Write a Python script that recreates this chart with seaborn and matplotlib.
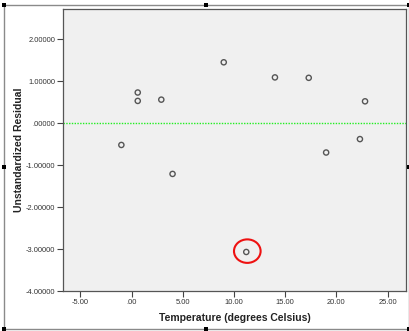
import matplotlib
matplotlib.use("Agg")
import matplotlib.pyplot as plt
from matplotlib.patches import Rectangle, Ellipse
from matplotlib.ticker import FuncFormatter, FixedLocator
import seaborn as sns
import pandas as pd
import numpy as np

# Residuals from the regression on temperature
temperature = [-1.0, 0.6, 0.6, 2.9, 4.0, 9.0, 11.2, 14.0, 17.3, 19.0, 22.3, 22.8]
residual = [-0.52, 0.73, 0.53, 0.56, -1.21, 1.45, -3.07, 1.09, 1.08, -0.70, -0.38, 0.52]

x_ticks = [-5, 0, 5, 10, 15, 20, 25]
y_ticks = [-4, -3, -2, -1, 0, 1, 2]

df = pd.DataFrame({"Temperature": temperature, "Residual": residual})

sns.set_theme(style="white")
plt.rcParams["font.family"] = ["Liberation Sans", "DejaVu Sans"]

fig = plt.figure(figsize=(4.10, 3.31), dpi=100)
ax = fig.add_axes([63 / 410, 1 - 291 / 331, (406 - 63) / 410, (291 - 9) / 331])
ax.set_facecolor("#F0F0F0")

sns.scatterplot(data=df, x="Temperature", y="Residual", ax=ax,
                marker="o", s=14, facecolor="none", edgecolor="#555555",
                linewidth=1.0, legend=False)

# Reference line at zero
ax.axhline(0, color="#22EE22", linestyle=(0, (1, 1)), linewidth=1.0, zorder=1)

ax.set_xlim(-6.7, 26.8)
ax.set_ylim(-4.0, 2.72)

def fmt(decimals):
    def f(v, pos):
        s = f"{v:.{decimals}f}"
        if s.startswith("0."):
            s = s[1:]
        elif s.startswith("-0."):
            s = "-" + s[2:]
        return s
    return FuncFormatter(f)

ax.xaxis.set_major_locator(FixedLocator(x_ticks))
ax.yaxis.set_major_locator(FixedLocator(y_ticks))
ax.xaxis.set_major_formatter(fmt(2))
ax.yaxis.set_major_formatter(fmt(5))
ax.tick_params(axis="both", which="major", length=4, width=0.8, color="#444444",
               labelsize=5.4, labelcolor="#333333", pad=1.5, direction="out",
               bottom=True, left=True)

for side, sp in ax.spines.items():
    sp.set_visible(True)
    sp.set_color("#555555")
    sp.set_linewidth(0.9)

ax.set_xlabel("Temperature (degrees Celsius)", fontsize=7.5, fontweight="bold",
              color="#222222", labelpad=5)
ax.set_ylabel("Unstandardized Residual", fontsize=7.5, fontweight="bold",
              color="#222222")
ax.yaxis.set_label_coords(-39 / 343, 0.5)

# Highlight the outlying residual
i_out = int(np.argmin(residual))
ax.add_patch(Ellipse((temperature[i_out] + 0.1, residual[i_out] + 0.02),
                     width=2.6, height=0.56, fill=False, edgecolor="#EE1111",
                     linewidth=1.5, zorder=5))

# Chart frame with selection handles
W, H = 410, 331
fig.patches.append(Rectangle((4 / W, 1 - 329 / H), 405 / W, 324 / H,
                             transform=fig.transFigure, fill=False,
                             edgecolor="#8A8A8A", linewidth=1.0))
for hx, hy in [(4, 5), (206, 5), (409, 5), (4, 167), (409, 167),
               (4, 329), (206, 329), (409, 329)]:
    fig.patches.append(Rectangle(((hx - 2) / W, 1 - (hy + 2) / H), 4 / W, 4 / H,
                                 transform=fig.transFigure, facecolor="black",
                                 edgecolor="none"))

fig.savefig("out.png", dpi=100)
